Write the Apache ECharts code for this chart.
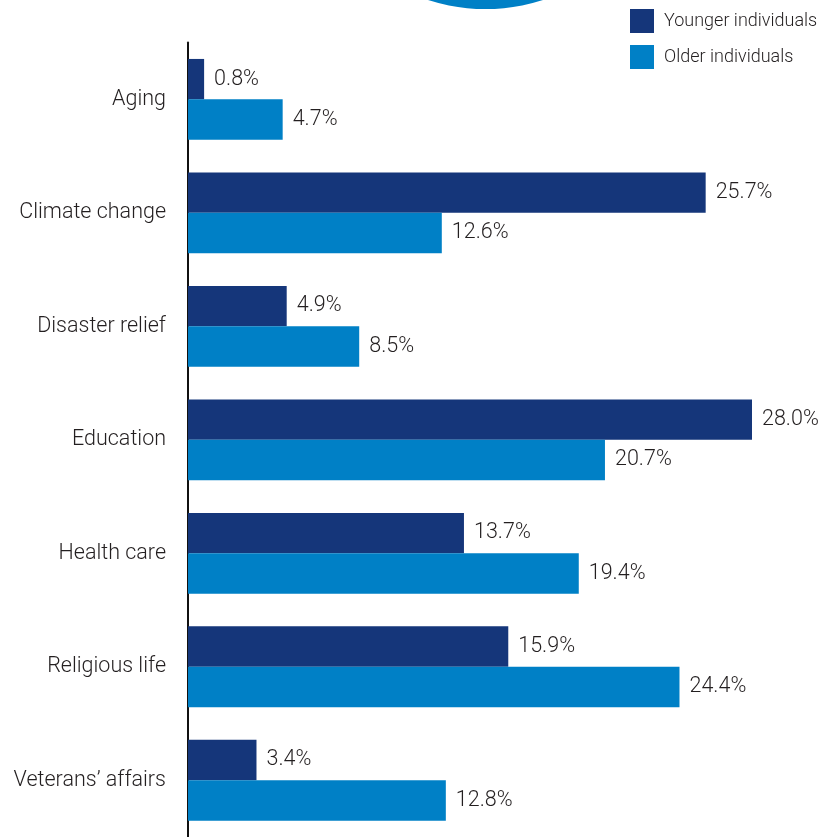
<!DOCTYPE html>
<html>
<head>
<meta charset="utf-8">
<script src="https://cdn.jsdelivr.net/npm/echarts@6/dist/echarts.min.js"></script>
<style>
  html, body { margin: 0; padding: 0; background: #ffffff; }
  #chart { width: 837px; height: 837px; }
</style>
</head>
<body>
<div id="chart"></div>
<script>
// Causes supported, by age group (share of respondents, %)
const categories = ['Aging', 'Climate change', 'Disaster relief', 'Education', 'Health care', 'Religious life', 'Veterans\u2019 affairs'];
const youngerValues = [0.8, 25.7, 4.9, 28.0, 13.7, 15.9, 3.4];
const olderValues = [4.7, 12.6, 8.5, 20.7, 19.4, 24.4, 12.8];
const seriesNames = ['Younger individuals', 'Older individuals'];

const FONT = 'Roboto, "Noto Sans", sans-serif';
const DARK = '#15367a';
const LIGHT = '#0080c6';
const TEXT = '#231f20';

const chart = echarts.init(document.getElementById('chart'), null, { renderer: 'canvas' });

const valueLabel = {
  show: true,
  position: 'right',
  distance: 10,
  color: TEXT,
  fontFamily: FONT,
  fontWeight: 300,
  fontSize: 21.5,
  formatter: p => p.value.toFixed(1) + '%'
};

chart.setOption({
  animation: false,
  backgroundColor: '#ffffff',
  graphic: [{
    // decorative blue disc peeking in at the top edge
    type: 'circle',
    shape: { cx: 485.5, cy: -179, r: 188 },
    style: { fill: LIGHT },
    silent: true
  }],
  legend: {
    orient: 'vertical',
    left: 625,
    top: 4,
    itemWidth: 24,
    itemHeight: 24,
    itemGap: 12,
    icon: 'rect',
    textStyle: { color: TEXT, fontFamily: FONT, fontWeight: 300, fontSize: 18, padding: [0, 0, 0, 5] },
    data: seriesNames
  },
  grid: {
    left: 188,
    top: 42.6,
    width: 564,
    height: 796.8,
    containLabel: false
  },
  xAxis: {
    type: 'value',
    min: 0,
    max: 28,
    show: false
  },
  yAxis: {
    type: 'category',
    data: categories,
    inverse: true,
    axisLine: { show: true, onZero: false, lineStyle: { color: '#111111', width: 2 } },
    axisTick: { show: false },
    splitLine: { show: false },
    axisLabel: { color: TEXT, fontFamily: FONT, fontWeight: 300, fontSize: 21.5, margin: 22 }
  },
  series: [
    {
      name: seriesNames[0],
      type: 'bar',
      data: youngerValues,
      itemStyle: { color: DARK },
      barGap: '0%',
      barCategoryGap: '28.8%',
      label: valueLabel
    },
    {
      name: seriesNames[1],
      type: 'bar',
      data: olderValues,
      itemStyle: { color: LIGHT },
      barGap: '0%',
      barCategoryGap: '28.8%',
      label: valueLabel
    }
  ]
});
</script>
</body>
</html>
